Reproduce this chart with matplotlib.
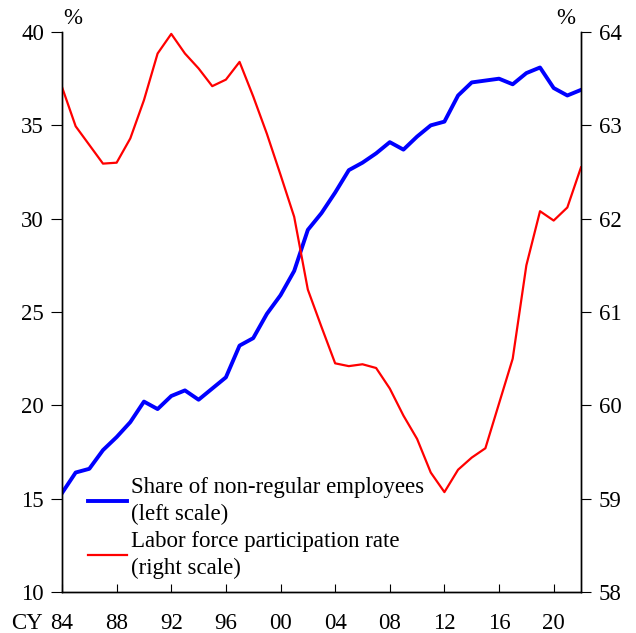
import numpy as np
import matplotlib
matplotlib.use('Agg')
import matplotlib.pyplot as plt
import matplotlib.transforms as mtransforms

plt.rcParams['font.family'] = ['Liberation Serif', 'DejaVu Serif']
plt.rcParams['font.size'] = 16.5

years = list(range(1984, 2023))

# share of non-regular employees, % (left scale)
nonregular = [15.3, 16.4, 16.6, 17.6, 18.3, 19.1, 20.2, 19.8, 20.5, 20.8,
              20.3, 20.9, 21.5, 23.2, 23.6, 24.9, 25.9, 27.2, 29.4, 30.3,
              31.4, 32.6, 33.0, 33.5, 34.1, 33.7, 34.4, 35.0, 35.2, 36.6,
              37.3, 37.4, 37.5, 37.2, 37.8, 38.1, 37.0, 36.6, 36.9]

# labor force participation rate, % (right scale)
participation = [63.41, 62.99, 62.79, 62.59, 62.60, 62.86, 63.27, 63.77, 63.98, 63.77,
                 63.61, 63.42, 63.49, 63.68, 63.31, 62.91, 62.47, 62.02, 61.24, 60.84,
                 60.45, 60.42, 60.44, 60.40, 60.18, 59.89, 59.64, 59.28, 59.07, 59.31,
                 59.44, 59.54, 60.02, 60.50, 61.50, 62.08, 61.98, 62.12, 62.55]

tick_years = list(range(1984, 2021, 4))
tick_labels = ['84', '88', '92', '96', '00', '04', '08', '12', '16', '20']

fig = plt.figure(figsize=(6.36, 6.33), dpi=100)
ax = fig.add_axes([0.0975, 0.0648, 0.816, 0.8846])
ax2 = ax.twinx()

l1, = ax.plot(years, nonregular, color='#0000ff', lw=2.8,
              label='Share of non-regular employees\n(left scale)')
l2, = ax2.plot(years, participation, color='#ff0000', lw=1.6,
               label='Labor force participation rate\n(right scale)')

ax.set_xlim(1984, 2022)
ax.set_ylim(10, 40)
ax2.set_ylim(58, 64)
ax.set_yticks(range(10, 41, 5))
ax2.set_yticks(range(58, 65))
ax.set_xticks(tick_years)
ax.set_xticklabels(tick_labels)

for a in (ax, ax2):
    a.spines['top'].set_visible(False)
    for s in a.spines.values():
        s.set_linewidth(1.0)
ax.tick_params(axis='x', direction='in', length=6, pad=15)
ax.tick_params(axis='y', direction='out', length=8, pad=5)
ax2.tick_params(axis='y', direction='out', length=7, pad=6)

trans = mtransforms.blended_transform_factory(ax.transData, ax.transAxes)
ax.annotate('CY', xy=(1984, 0), xycoords=trans, xytext=(-14, -15),
            textcoords='offset points', ha='right', va='top')

fig.text(73 / 636, 1 - 18 / 633, '%', ha='center', va='center', fontsize=16.5)
fig.text(566 / 636, 1 - 18 / 633, '%', ha='center', va='center', fontsize=16.5)

leg = ax.legend(handles=[l1, l2], loc='lower left', bbox_to_anchor=(0.0185, -0.005),
                frameon=False, handlelength=1.7, handletextpad=0.2,
                labelspacing=0.25, borderaxespad=0.3)
for t in leg.get_texts():
    t.set_linespacing(1.35)

fig.savefig('out.png', dpi=100)
